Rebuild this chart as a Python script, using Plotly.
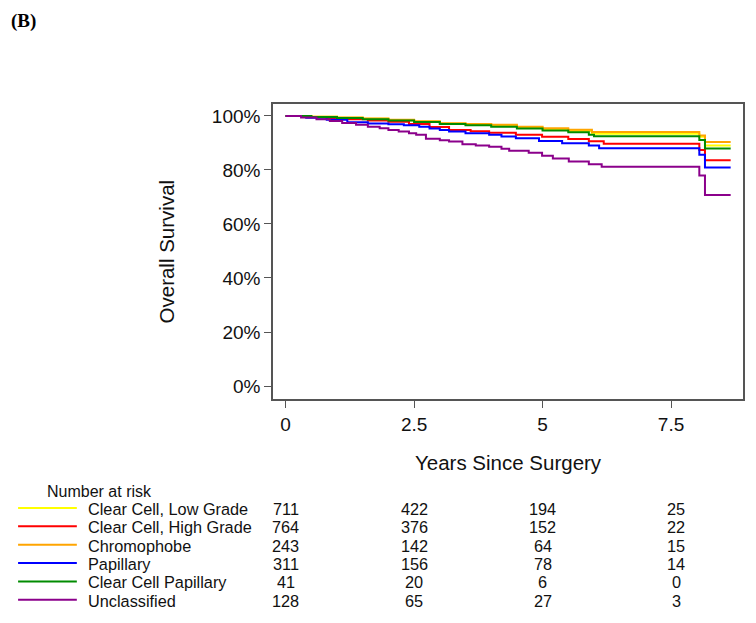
import plotly.graph_objects as go

# ---------------- data ----------------
groups = ["Clear Cell, Low Grade", "Clear Cell, High Grade", "Chromophobe",
          "Papillary", "Clear Cell Papillary", "Unclassified"]
colors = ["#FFFF00", "#FF0000", "#FFA500", "#0000FF", "#008B00", "#8B008B"]

t_low = [0, 0.5, 1.0, 1.5, 2.0, 2.5, 3.0, 3.5, 4.0, 4.5, 5.0, 5.5, 5.96, 8.05, 8.16, 8.66]
s_low = [100, 99.7, 99.3, 98.9, 98.4, 97.8, 97.1, 96.8, 96.4, 95.7, 95.0, 94.4, 93.4, 92.3, 89.0, 89.0]

t_high = [0, 0.4, 0.8, 1.2, 1.6, 2.0, 2.4, 2.8, 3.18, 3.6, 3.96, 4.48, 4.99, 5.5, 5.9, 6.19, 8.05, 8.16, 8.66]
s_high = [100, 99.6, 99.2, 98.8, 98.3, 97.8, 97.0, 95.9, 94.8, 94.3, 93.8, 93.0, 92.3, 91.4, 90.6, 89.7, 87.4, 83.6, 83.6]

t_chromo = [0, 0.5, 1.0, 1.5, 2.0, 2.5, 3.0, 3.5, 4.0, 4.5, 5.0, 5.5, 5.96, 8.05, 8.16, 8.66]
s_chromo = [100, 99.7, 99.4, 99.0, 98.6, 98.0, 97.3, 97.0, 96.7, 96.0, 95.4, 94.9, 94.0, 92.7, 90.3, 90.3]

t_pap = [0, 0.4, 0.8, 1.2, 1.6, 2.0, 2.3, 2.6, 2.8, 3.0, 3.18, 3.5, 3.96, 4.2, 4.48, 4.93, 5.38, 5.9, 6.1, 8.05, 8.16, 8.66]
s_pap = [100, 99.3, 98.6, 97.6, 97.2, 96.9, 96.5, 96.0, 95.3, 94.8, 94.2, 93.6, 93.0, 92.4, 91.7, 90.7, 89.9, 89.0, 88.0, 85.6, 80.9, 80.9]

t_ccp = [0, 0.5, 1.0, 1.5, 2.0, 2.5, 3.0, 3.5, 4.0, 4.5, 5.0, 5.5, 5.9, 6.0, 8.05, 8.16, 8.66]
s_ccp = [100, 99.6, 99.2, 98.8, 98.3, 97.7, 97.0, 96.5, 96.0, 95.3, 94.6, 93.9, 93.0, 92.5, 91.1, 87.9, 87.9]

t_uncl = [0, 0.3, 0.6, 0.86, 1.1, 1.37, 1.6, 1.83, 2.0, 2.2, 2.4, 2.54, 2.73, 3.0, 3.18, 3.44, 3.7,
          3.96, 4.2, 4.35, 4.73, 4.99, 5.2, 5.51, 5.9, 6.15, 8.05, 8.16, 8.66]
s_uncl = [100, 99.4, 98.8, 98.1, 97.4, 96.7, 96.0, 95.4, 94.8, 94.2, 93.6, 93.0, 91.5, 91.0, 90.5, 89.5, 89.0,
          88.6, 87.8, 87.1, 86.4, 85.2, 84.2, 83.1, 82.1, 81.2, 77.9, 70.7, 70.7]

times = [t_low, t_high, t_chromo, t_pap, t_ccp, t_uncl]
survs = [s_low, s_high, s_chromo, s_pap, s_ccp, s_uncl]

risk_times = [0, 2.5, 5, 7.5]
risk_low = [711, 422, 194, 25]
risk_high = [764, 376, 152, 22]
risk_chromo = [243, 142, 64, 15]
risk_pap = [311, 156, 78, 14]
risk_ccp = [41, 20, 6, 0]
risk_uncl = [128, 65, 27, 3]
risks = [risk_low, risk_high, risk_chromo, risk_pap, risk_ccp, risk_uncl]

x_ticks = [0, 2.5, 5, 7.5]
x_ticklabels = ["0", "2.5", "5", "7.5"]
y_ticks = [0, 20, 40, 60, 80, 100]
y_ticklabels = ["0%", "20%", "40%", "60%", "80%", "100%"]

# ---------------- figure ----------------
FONT = "Liberation Sans, Arial, sans-serif"
OFF = 8  # page body margin
W, H = 756 - OFF, 623 - OFF
L, R, T, B = 273 - OFF, 11, 104 - OFF, 224
plot_h = H - T - B
plot_w = W - L - R


def ypap(py):
    return (H - B - (py - OFF)) / plot_h


def xpap(px):
    return ((px - OFF) - L) / plot_w


fig = go.Figure()
for name, col, t, s in zip(groups, colors, times, survs):
    fig.add_trace(go.Scatter(x=t, y=s, mode="lines", name=name,
                             line=dict(color=col, width=2, shape="hv"),
                             showlegend=False, hoverinfo="skip"))

axis_common = dict(showline=True, linecolor="#555555", linewidth=1.5, mirror=True,
                   ticks="outside", ticklen=7, tickcolor="#555555", tickwidth=1.2,
                   showgrid=False, zeroline=False,
                   tickfont=dict(family=FONT, size=19, color="#111111"))

fig.update_xaxes(range=[-0.246, 8.9], tickvals=x_ticks, ticktext=x_ticklabels, **axis_common)
fig.update_yaxes(range=[-4.8, 104.4], tickvals=y_ticks, ticktext=y_ticklabels, **axis_common)

annotations = []
shapes = []
# titles
annotations.append(dict(text="Years Since Surgery", xref="paper", yref="paper",
                        x=xpap(510), y=ypap(462), xanchor="center", yanchor="middle",
                        showarrow=False, font=dict(family=FONT, size=20.5, color="#111111")))
annotations.append(dict(text="Overall Survival", xref="paper", yref="paper",
                        x=xpap(166), y=ypap(251), xanchor="center", yanchor="middle",
                        textangle=-90, showarrow=False,
                        font=dict(family=FONT, size=20.5, color="#111111")))
annotations.append(dict(text="<b>(B)</b>", xref="paper", yref="paper",
                        x=xpap(9), y=ypap(9), xanchor="left", yanchor="top",
                        showarrow=False, borderpad=0,
                        font=dict(family="Liberation Serif, Times New Roman, serif", size=19, color="#000000")))

# number at risk table
annotations.append(dict(text="Number at risk", xref="paper", yref="paper",
                        x=xpap(44), y=ypap(491), xanchor="left", yanchor="middle",
                        showarrow=False, font=dict(family=FONT, size=16, color="#111111")))
for i, (name, col, rk) in enumerate(zip(groups, colors, risks)):
    py = 509 + 18.35 * i
    shapes.append(dict(type="line", xref="paper", yref="paper",
                       x0=xpap(17), x1=xpap(76), y0=ypap(py - 1), y1=ypap(py - 1),
                       line=dict(color=col, width=2)))
    annotations.append(dict(text=name, xref="paper", yref="paper",
                            x=xpap(85), y=ypap(py), xanchor="left", yanchor="middle",
                            showarrow=False, font=dict(family=FONT, size=16.3, color="#111111")))
    for j, (tt, n) in enumerate(zip(risk_times, rk)):
        annotations.append(dict(text=str(n), xref="x", yref="paper",
                                x=tt, y=ypap(py), xanchor="center", yanchor="middle",
                                xshift=(5 if j == 3 else 0),
                                showarrow=False, font=dict(family=FONT, size=16.3, color="#111111")))

fig.update_layout(width=W, height=H, margin=dict(l=L, r=R, t=T, b=B),
                  paper_bgcolor="white", plot_bgcolor="white",
                  annotations=annotations, shapes=shapes,
                  font=dict(family=FONT))

fig.write_html("out.html")
